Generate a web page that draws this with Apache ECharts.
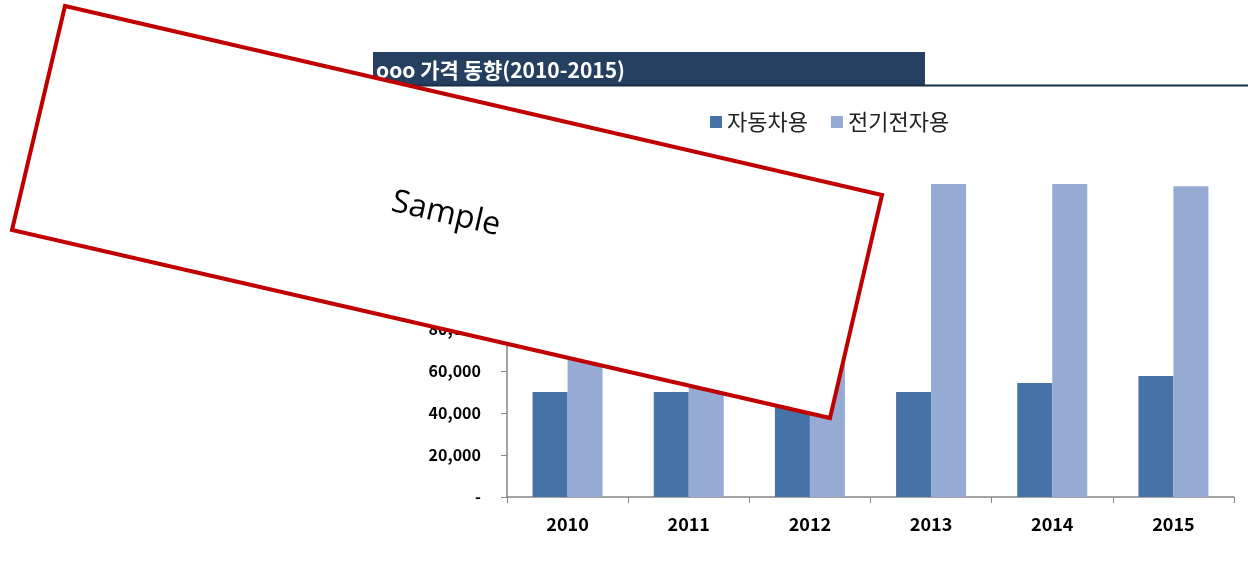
<!DOCTYPE html>
<html>
<head>
<meta charset="utf-8">
<script src="https://cdn.jsdelivr.net/npm/echarts@6/dist/echarts.min.js"></script>
<style>
  html, body { margin: 0; padding: 0; background: #fff; }
  #chart { width: 1248px; height: 564px; }
</style>
</head>
<body>
<div id="chart"></div>
<script>
// data
const years = ['2010', '2011', '2012', '2013', '2014', '2015']
const autoValues = [50000, 50000, 50000, 50000, 54300, 57600]
const elecValues = [120000, 130000, 140000, 149000, 149000, 148000]
const seriesNames = ['자동차용', '전기전자용']
const yTicks = { min: 0, max: 160000, interval: 20000 }

const font = '"Noto Sans CJK KR", "Noto Sans", sans-serif'
const chart = echarts.init(document.getElementById('chart'))

const option = {
  animation: false,
  backgroundColor: '#fff',
  grid: { left: 507, right: 14, top: 161, bottom: 67 },
  legend: {
    left: 705,
    top: 106,
    icon: 'rect',
    itemWidth: 12,
    itemHeight: 12,
    itemGap: 23,
    textStyle: { fontFamily: font, fontSize: 22, color: '#222' },
    data: seriesNames
  },
  xAxis: {
    type: 'category',
    data: years,
    axisLine: { lineStyle: { color: '#868686', width: 1.5 } },
    axisTick: { show: true, length: 6, lineStyle: { color: '#868686' } },
    axisLabel: { margin: 18, fontFamily: font, fontSize: 18, fontWeight: 'bold', color: '#000' }
  },
  yAxis: {
    type: 'value',
    min: yTicks.min,
    max: yTicks.max,
    interval: yTicks.interval,
    splitLine: { show: false },
    axisLine: { show: true, lineStyle: { color: '#868686', width: 1.5 } },
    axisTick: { show: true, length: 6, lineStyle: { color: '#868686' } },
    axisLabel: {
      margin: 26,
      fontFamily: font, fontSize: 16, fontWeight: 'bold', color: '#000',
      formatter: v => v === 0 ? '-' : v.toLocaleString('en-US')
    }
  },
  series: [
    {
      name: seriesNames[0],
      type: 'bar',
      data: autoValues,
      barWidth: 35,
      barGap: '0%',
      itemStyle: { color: '#4672a8' }
    },
    {
      name: seriesNames[1],
      type: 'bar',
      data: elecValues,
      barWidth: 35,
      barGap: '0%',
      itemStyle: { color: '#95abd3' }
    }
  ],
  graphic: [
    // title bar
    {
      type: 'rect', z: 100,
      shape: { x: 373, y: 52, width: 552, height: 33 },
      style: { fill: '#243f60' }
    },
    {
      type: 'line', z: 100,
      shape: { x1: 373, y1: 85.5, x2: 1248, y2: 85.5 },
      style: { stroke: '#1b2c47', lineWidth: 2 }
    },
    {
      type: 'text', z: 101,
      x: 376, y: 70,
      style: {
        text: 'ooo 가격 동향(2010-2015)',
        fill: '#fff', fontFamily: font, fontSize: 21, fontWeight: 'bold',
        verticalAlign: 'middle'
      }
    },
    // sample stamp
    {
      type: 'polygon', z: 200,
      shape: { points: [[65, 6], [882, 195], [830, 418], [12, 230]] },
      style: { fill: '#fff', stroke: '#c00000', lineWidth: 4 }
    },
    {
      type: 'text', z: 201,
      x: 446, y: 214,
      rotation: -13 * Math.PI / 180,
      style: {
        text: 'Sample',
        fill: '#000', fontFamily: '"Open Sans", sans-serif', fontSize: 32,
        align: 'center', verticalAlign: 'middle'
      }
    }
  ]
}
chart.setOption(option)
</script>
</body>
</html>
